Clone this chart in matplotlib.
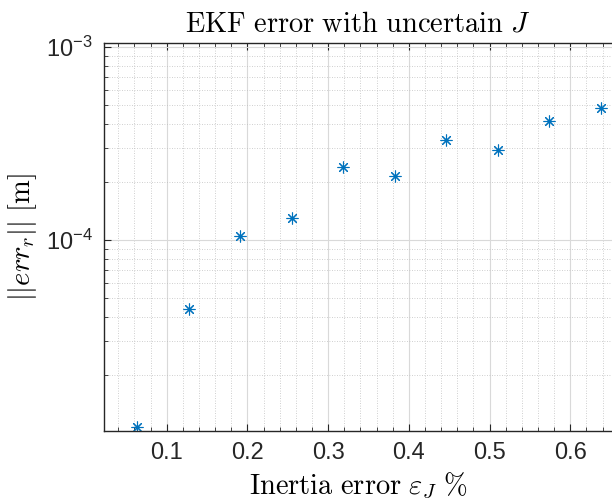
import math
import matplotlib
matplotlib.use("Agg")
import matplotlib.pyplot as plt
from matplotlib.ticker import LogLocator, MultipleLocator, FuncFormatter, NullFormatter

plt.rcParams["mathtext.fontset"] = "cm"
plt.rcParams["mathtext.rm"] = "Liberation Sans"
plt.rcParams["mathtext.it"] = "Liberation Sans:italic"
plt.rcParams["mathtext.sf"] = "Liberation Sans"
plt.rcParams["font.family"] = ["Liberation Sans", "DejaVu Sans"]

# inertia error (%) and position error norm (m)
inertia_err = [0.0638, 0.1276, 0.1914, 0.2552, 0.3190, 0.3828, 0.4466, 0.5104, 0.5742, 0.6380]
err_r = [1.08e-5, 4.40e-5, 1.05e-4, 1.30e-4, 2.39e-4, 2.14e-4, 3.29e-4, 2.93e-4, 4.16e-4, 4.83e-4]

x_ticks = [0.1, 0.2, 0.3, 0.4, 0.5, 0.6]
x_lim = (0.0223, 0.6517)
y_lim = (1.027e-5, 1.049e-3)

blue = (0.0, 0.447, 0.741)
dark = (0.15, 0.15, 0.15)

fig = plt.figure(figsize=(6.12, 5.01), dpi=100)
ax = fig.add_axes([104 / 612, 70 / 501, 1 - 104 / 612, (431 - 43) / 501])

# matlab-style '*' marker: plus and cross overlaid
ax.plot(inertia_err, err_r, linestyle="none", marker=(8, 2, 0), color=blue,
        markersize=8.5, markeredgewidth=0.8)

ax.set_yscale("log")
ax.set_xlim(*x_lim)
ax.set_ylim(*y_lim)
ax.set_xticks(x_ticks)
ax.xaxis.set_minor_locator(MultipleLocator(0.02))
ax.yaxis.set_major_locator(LogLocator(base=10))
ax.yaxis.set_minor_locator(LogLocator(base=10, subs=range(2, 10)))
ax.yaxis.set_minor_formatter(NullFormatter())


def pow_fmt(v, pos):
    e = int(round(math.log10(v)))
    return r"$\mathregular{10^{%d}}$" % e


ax.yaxis.set_major_formatter(FuncFormatter(pow_fmt))
ax.xaxis.set_major_formatter(FuncFormatter(lambda v, p: f"{v:g}"))

ax.grid(True, which="major", color=(0.85, 0.85, 0.85), linewidth=0.8)
ax.grid(True, which="minor", color=(0.75, 0.75, 0.75), linestyle=(0, (1, 2)), linewidth=0.6)
ax.set_axisbelow(True)

for side in ["left", "bottom", "top"]:
    ax.spines[side].set_color(dark)
    ax.spines[side].set_linewidth(1.0)
ax.spines["right"].set_visible(False)

ax.tick_params(which="both", direction="in", top=True, right=False, color=dark)
ax.tick_params(which="major", length=5, labelsize=17, labelcolor=dark, pad=8)
ax.tick_params(which="minor", length=3)
for lbl in ax.get_yticklabels():
    lbl.set_math_fontfamily("custom")

ax.set_title(r"$\mathrm{EKF\ error\ with\ uncertain}\ J$", fontsize=20.5, pad=8)
ax.set_xlabel(r"$\mathrm{Inertia\ error}\ \varepsilon_J\ \%$", fontsize=20.5, labelpad=5)
ax.set_ylabel(r"$||err_r||\ [\mathrm{m}]$", fontsize=20.5, labelpad=5)

fig.savefig("out.png", dpi=100)
